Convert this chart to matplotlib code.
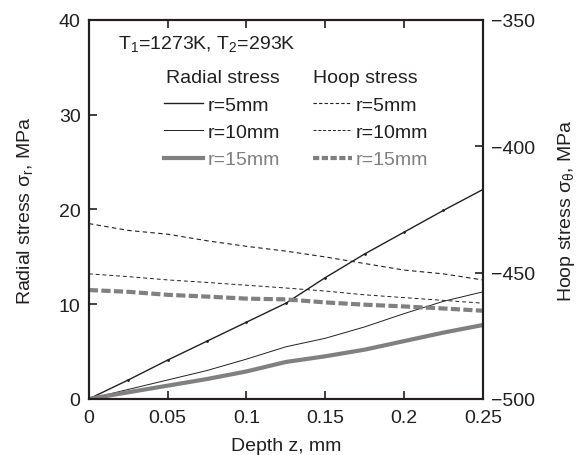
import numpy as np
import matplotlib
matplotlib.use('Agg')
import matplotlib.pyplot as plt
from matplotlib.lines import Line2D

plt.rcParams['font.family'] = ['Liberation Sans', 'DejaVu Sans']
plt.rcParams['mathtext.default'] = 'regular'

# depth z, mm
depth = [0, 0.025, 0.05, 0.075, 0.1, 0.125, 0.15, 0.175, 0.2, 0.225, 0.25]

# radial stress, MPa (left axis)
radial_r5 = [0, 2.0, 4.1, 6.1, 8.1, 10.1, 12.8, 15.3, 17.6, 19.9, 22.1]
radial_r10 = [0, 1.0, 2.0, 3.0, 4.2, 5.5, 6.4, 7.6, 9.0, 10.3, 11.3]
radial_r15 = [0, 0.7, 1.4, 2.1, 2.9, 3.9, 4.5, 5.2, 6.1, 7.0, 7.8]

# hoop stress, MPa (right axis)
hoop_r5 = [-430.6, -433.3, -434.8, -437.4, -439.6, -441.5, -443.8, -446.4, -449.0, -450.5, -452.9]
hoop_r10 = [-450.5, -451.6, -452.9, -453.9, -455.0, -456.1, -457.3, -458.8, -459.9, -461.0, -462.1]
hoop_r15 = [-456.9, -457.6, -458.8, -459.5, -460.3, -460.6, -461.8, -462.7, -463.4, -464.2, -465.1]

xticks = [0, 0.05, 0.1, 0.15, 0.2, 0.25]
xtick_labels = ['0', '0.05', '0.1', '0.15', '0.2', '0.25']
left_ticks = [0, 10, 20, 30, 40]
right_ticks = [-500, -450, -400, -350]

dark = '#231f20'
gray = '#808080'
fs = 14

fig = plt.figure(figsize=(5.81, 4.56), dpi=100)
ax = fig.add_axes([0.153, 0.123, 0.678, 0.831])
ax2 = ax.twinx()

ax.plot(depth, radial_r5, color=dark, lw=1.0, marker='.', ms=2)
ax.plot(depth, radial_r10, color=dark, lw=0.7)
ax.plot(depth, radial_r15, color=gray, lw=3.0, solid_capstyle='butt')

ax2.plot(depth, hoop_r5, color=dark, lw=0.8, ls=(0, (4, 3)))
ax2.plot(depth, hoop_r10, color=dark, lw=0.7, ls=(0, (4, 3)))
ax2.plot(depth, hoop_r15, color=gray, lw=3.0, ls=(0, (2.2, 0.8)))

ax.set_xlim(0, 0.25)
ax.set_ylim(0, 40)
ax2.set_ylim(-500, -350)
ax.set_xticks(xticks)
ax.set_xticklabels(xtick_labels)
ax.set_yticks(left_ticks)
ax2.set_yticks(right_ticks)

ax.tick_params(axis='x', direction='in', top=True, length=6, width=1.2,
               labelsize=fs, colors=dark, pad=7)
ax.tick_params(axis='y', direction='in', length=6, width=1.2,
               labelsize=fs, colors=dark, pad=6)
ax2.tick_params(axis='y', direction='in', length=6, width=1.2,
                labelsize=fs, colors=dark, pad=6)
for a in (ax, ax2):
    for s in a.spines.values():
        s.set_linewidth(1.5)
        s.set_color(dark)

ax.set_xlabel('Depth z, mm', fontsize=fs, color=dark, labelpad=8)
ax.set_ylabel(r'Radial stress $\sigma_r$, MPa', fontsize=fs, color=dark, labelpad=17)
ax2.set_ylabel(r'Hoop stress $\sigma_\theta$, MPa', fontsize=fs, color=dark, labelpad=15)

ax.text(0.075, 0.965, r'T$_1$=1273K, T$_2$=293K', transform=ax.transAxes,
        fontsize=fs, color=dark, va='top', ha='left')

rad_handles = [Line2D([], [], color=dark, lw=1.0),
               Line2D([], [], color=dark, lw=0.7),
               Line2D([], [], color=gray, lw=3.0)]
hoop_handles = [Line2D([], [], color=dark, lw=0.8, ls=(0, (3, 2))),
                Line2D([], [], color=dark, lw=0.7, ls=(0, (3, 2))),
                Line2D([], [], color=gray, lw=3.0, ls=(0, (1.5, 0.6)))]
labels = ['r=5mm', 'r=10mm', 'r=15mm']

leg1 = ax.legend(rad_handles, labels, title='Radial stress', loc='upper left',
                 bbox_to_anchor=(0.167, 0.895), frameon=False, fontsize=fs,
                 title_fontsize=fs, handlelength=2.0, handletextpad=0.2,
                 labelspacing=0.5, borderpad=0)
leg1._legend_box.align = 'right'
leg2 = ax.legend(hoop_handles, labels, title='Hoop stress', loc='upper left',
                 bbox_to_anchor=(0.545, 0.895), frameon=False, fontsize=fs,
                 title_fontsize=fs, handlelength=2.0, handletextpad=0.2,
                 labelspacing=0.5, borderpad=0)
leg2._legend_box.align = 'left'
ax.add_artist(leg1)
for leg in (leg1, leg2):
    leg.get_title().set_color(dark)
    for i, t in enumerate(leg.get_texts()):
        t.set_color(gray if i == 2 else dark)

fig.savefig('out.png', dpi=100)
